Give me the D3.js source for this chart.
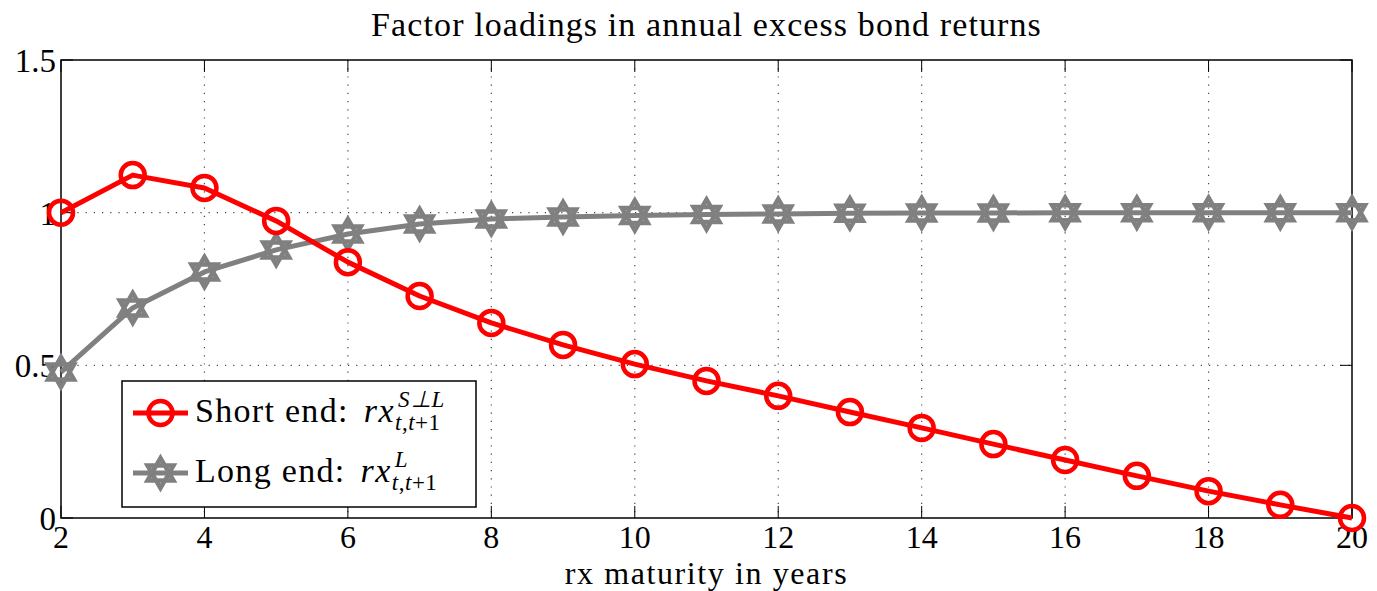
<!DOCTYPE html>
<html>
<head>
<meta charset="utf-8">
<script src="https://cdn.jsdelivr.net/npm/d3@7"></script>
<style>
  body { margin: 0; background: #fff; }
</style>
</head>
<body>
<div id="chart"></div>
<script>
// maturities in years
const maturities = d3.range(2, 21);

// short end loadings rx^{S⊥L}
const shortEnd = [1.000, 1.123, 1.081, 0.973, 0.838, 0.727, 0.639, 0.567, 0.504, 0.449,
    0.400, 0.347, 0.295, 0.242, 0.190, 0.138, 0.088, 0.043, 0.000];

// long end loadings rx^L
const longEnd = [0.478, 0.688, 0.806, 0.878, 0.930, 0.963, 0.979, 0.986, 0.991, 0.994,
    0.996, 0.998, 0.999, 0.999, 1.000, 1.000, 1.000, 1.000, 1.000];

const xTicks = [2, 4, 6, 8, 10, 12, 14, 16, 18, 20];
const yTicks = [0, 0.5, 1, 1.5];
const yTickLabels = ['0', '0.5', '1', '1.5'];

const width = 1377, height = 591;
const margin = { top: 60, right: 25, bottom: 73, left: 61 };
const innerW = width - margin.left - margin.right;
const innerH = height - margin.top - margin.bottom;

const RED = '#ff0000', GRAY = '#808080';
const FONT = '"Liberation Serif", "Times New Roman", serif';

const svg = d3.select('#chart').append('svg')
    .attr('width', width).attr('height', height)
    .attr('font-family', FONT);

const g = svg.append('g').attr('transform', `translate(${margin.left},${margin.top})`);

const x = d3.scaleLinear().domain([2, 20]).range([0, innerW]);
const y = d3.scaleLinear().domain([0, 1.5]).range([innerH, 0]);

// dotted grid
g.append('g').selectAll('line')
    .data(xTicks.slice(1, -1))
    .join('line')
    .attr('x1', d => x(d)).attr('x2', d => x(d))
    .attr('y1', 0).attr('y2', innerH)
    .attr('stroke', '#444').attr('stroke-width', 1.2)
    .attr('stroke-dasharray', '1.2,7');

g.append('g').selectAll('line')
    .data([0.5, 1])
    .join('line')
    .attr('x1', 0).attr('x2', innerW)
    .attr('y1', d => y(d)).attr('y2', d => y(d))
    .attr('stroke', '#444').attr('stroke-width', 1.2)
    .attr('stroke-dasharray', '1.2,7');

// inward ticks on all four sides
const tickLen = 12;
const ticks = g.append('g').attr('stroke', '#000').attr('stroke-width', 1);
xTicks.forEach(t => {
    ticks.append('line').attr('x1', x(t)).attr('x2', x(t)).attr('y1', innerH).attr('y2', innerH - tickLen);
    ticks.append('line').attr('x1', x(t)).attr('x2', x(t)).attr('y1', 0).attr('y2', tickLen);
});
yTicks.forEach(t => {
    ticks.append('line').attr('x1', 0).attr('x2', tickLen).attr('y1', y(t)).attr('y2', y(t));
    ticks.append('line').attr('x1', innerW).attr('x2', innerW - tickLen).attr('y1', y(t)).attr('y2', y(t));
});

// axis box
g.append('rect')
    .attr('width', innerW).attr('height', innerH)
    .attr('fill', 'none').attr('stroke', '#000').attr('stroke-width', 1.5);

// tick labels
g.append('g').selectAll('text')
    .data(xTicks)
    .join('text')
    .attr('x', d => x(d)).attr('y', innerH + 30)
    .attr('text-anchor', 'middle')
    .attr('font-size', 32)
    .text(d => d);

g.append('g').selectAll('text')
    .data(yTicks)
    .join('text')
    .attr('x', -5).attr('y', d => y(d) + 12)
    .attr('text-anchor', 'end')
    .attr('font-size', 33)
    .text((d, i) => yTickLabels[i]);

// title and axis label
svg.append('text')
    .attr('x', margin.left + innerW / 2).attr('y', 36)
    .attr('text-anchor', 'middle')
    .attr('font-size', 34)
    .attr('letter-spacing', 1.1)
    .text('Factor loadings in annual excess bond returns');

svg.append('text')
    .attr('x', margin.left + innerW / 2).attr('y', 584)
    .attr('text-anchor', 'middle')
    .attr('font-size', 32)
    .attr('letter-spacing', 1.6)
    .text('rx maturity in years');

// markers
const hexagram = (r) => {
    const pts = a0 => d3.range(3).map(k => {
        const a = a0 + k * 2 * Math.PI / 3;
        return [r * Math.cos(a), r * Math.sin(a)];
    });
    const tri = p => 'M' + p.map(q => q.join(',')).join('L') + 'Z';
    return tri(pts(-Math.PI / 2)) + tri(pts(Math.PI / 2));
};

const line = d3.line().x(d => x(d[0])).y(d => y(d[1]));

const plot = g.append('g');

function drawMarkers(parent, pts, color, marker) {
    if (marker === 'circle') {
        parent.selectAll(null).data(pts).join('circle')
            .attr('cx', d => d[0]).attr('cy', d => d[1]).attr('r', 12)
            .attr('fill', 'none').attr('stroke', color).attr('stroke-width', 4.5);
    } else {
        parent.selectAll(null).data(pts).join('path')
            .attr('transform', d => `translate(${d[0]},${d[1]})`)
            .attr('d', hexagram(15))
            .attr('fill', 'none').attr('stroke', color).attr('stroke-width', 4.5);
    }
}

function drawSeries(values, color, marker) {
    const data = maturities.map((m, i) => [m, values[i]]);
    plot.append('path')
        .datum(data)
        .attr('d', line)
        .attr('fill', 'none')
        .attr('stroke', color)
        .attr('stroke-width', 5)
        .attr('stroke-linejoin', 'round');
    drawMarkers(plot.append('g'), data.map(d => [x(d[0]), y(d[1])]), color, marker);
}

drawSeries(longEnd, GRAY, 'hexagram');
drawSeries(shortEnd, RED, 'circle');

// legend
const lg = svg.append('g').attr('transform', 'translate(122,381)');
lg.append('rect')
    .attr('width', 354).attr('height', 126)
    .attr('fill', '#fff').attr('stroke', '#000').attr('stroke-width', 1.5);

const legendItems = [
    { color: RED, marker: 'circle', label: 'Short end:', sup: 'S\u22A5L', y: 32 },
    { color: GRAY, marker: 'hexagram', label: 'Long end:', sup: 'L', y: 92 }
];

legendItems.forEach(item => {
    lg.append('line')
        .attr('x1', 11).attr('x2', 66).attr('y1', item.y).attr('y2', item.y)
        .attr('stroke', item.color).attr('stroke-width', 5);
    drawMarkers(lg.append('g'), [[38.5, item.y]], item.color, item.marker);
    const lab = lg.append('text')
        .attr('x', 73).attr('y', item.y + 9)
        .attr('font-size', 34).attr('letter-spacing', 1.3)
        .text(item.label);
    const rxX = 73 + lab.node().getComputedTextLength() + 15;
    const rx = lg.append('text')
        .attr('x', rxX).attr('y', item.y + 9)
        .attr('font-size', 34).attr('font-style', 'italic').attr('letter-spacing', 1.5)
        .text('rx');
    const end = rxX + rx.node().getComputedTextLength();
    lg.append('text')
        .attr('x', end + 3).attr('y', item.y - 6)
        .attr('font-size', 23).attr('font-style', 'italic').attr('letter-spacing', 1)
        .text(item.sup);
    const sub = lg.append('text')
        .attr('x', end).attr('y', item.y + 17)
        .attr('font-size', 23).attr('letter-spacing', 0.5);
    sub.append('tspan').attr('font-style', 'italic').text('t');
    sub.append('tspan').text(',');
    sub.append('tspan').attr('font-style', 'italic').text('t');
    sub.append('tspan').text('+1');
});
</script>
</body>
</html>
